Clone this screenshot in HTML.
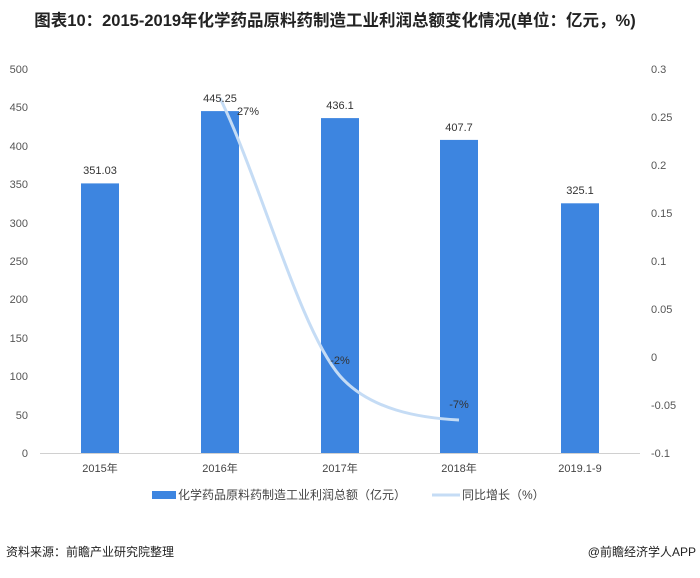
<!DOCTYPE html>
<html><head><meta charset="utf-8"><style>
body{margin:0;background:#fff;}
svg text{font-family:"Liberation Sans","Noto Sans CJK SC",sans-serif;}
</style></head><body>
<svg width="700" height="573" viewBox="0 0 700 573" xmlns="http://www.w3.org/2000/svg">
<text x="335" y="26" text-anchor="middle" font-size="16.5" font-weight="bold" fill="#222">图表10：2015-2019年化学药品原料药制造工业利润总额变化情况(单位：亿元，%)</text>
<g font-size="11" fill="#555" text-anchor="end">
<text x="28" y="73">500</text><text x="28" y="111">450</text><text x="28" y="150">400</text><text x="28" y="188">350</text><text x="28" y="227">300</text><text x="28" y="265">250</text><text x="28" y="303">200</text><text x="28" y="342">150</text><text x="28" y="380">100</text><text x="28" y="419">50</text><text x="28" y="457">0</text>
</g>
<g font-size="11" fill="#555">
<text x="651" y="73">0.3</text><text x="651" y="121">0.25</text><text x="651" y="169">0.2</text><text x="651" y="217">0.15</text><text x="651" y="265">0.1</text><text x="651" y="313">0.05</text><text x="651" y="361">0</text><text x="651" y="409">-0.05</text><text x="651" y="457">-0.1</text>
</g>
<line x1="40" y1="453.5" x2="640" y2="453.5" stroke="#d0d0d0"/>
<g fill="#3d85e0">
<rect x="81" y="183.4" width="38" height="269.6"/>
<rect x="201" y="111.1" width="38" height="341.9"/>
<rect x="321" y="118.1" width="38" height="334.9"/>
<rect x="440" y="139.9" width="38" height="313.1"/>
<rect x="561" y="203.3" width="38" height="249.7"/>
</g>
<path d="M220,98 C260,180 300,330 340,376 C370,410 420,418 459,420" fill="none" stroke="#c5dcf5" stroke-width="3"/>
<g font-size="11" fill="#333" text-anchor="middle">
<text x="100" y="174">351.03</text><text x="220" y="102">445.25</text><text x="340" y="109">436.1</text><text x="459" y="131">407.7</text><text x="580" y="194">325.1</text>
<text x="248" y="115">27%</text><text x="340" y="364">-2%</text><text x="459" y="408">-7%</text>
</g>
<g font-size="11" fill="#444" text-anchor="middle">
<text x="100" y="472">2015年</text><text x="220" y="472">2016年</text><text x="340" y="472">2017年</text><text x="459" y="472">2018年</text><text x="580" y="472">2019.1-9</text>
</g>
<rect x="152" y="491" width="24" height="8" fill="#3d85e0"/>
<text x="178" y="499" font-size="12" fill="#444">化学药品原料药制造工业利润总额（亿元）</text>
<line x1="432" y1="495" x2="460" y2="495" stroke="#c5dcf5" stroke-width="3"/>
<text x="462" y="499" font-size="12" fill="#444">同比增长（%）</text>
<text x="6" y="556" font-size="12" fill="#222">资料来源：前瞻产业研究院整理</text>
<text x="696" y="556" font-size="12" fill="#222" text-anchor="end">@前瞻经济学人APP</text>
</svg>
</body></html>
